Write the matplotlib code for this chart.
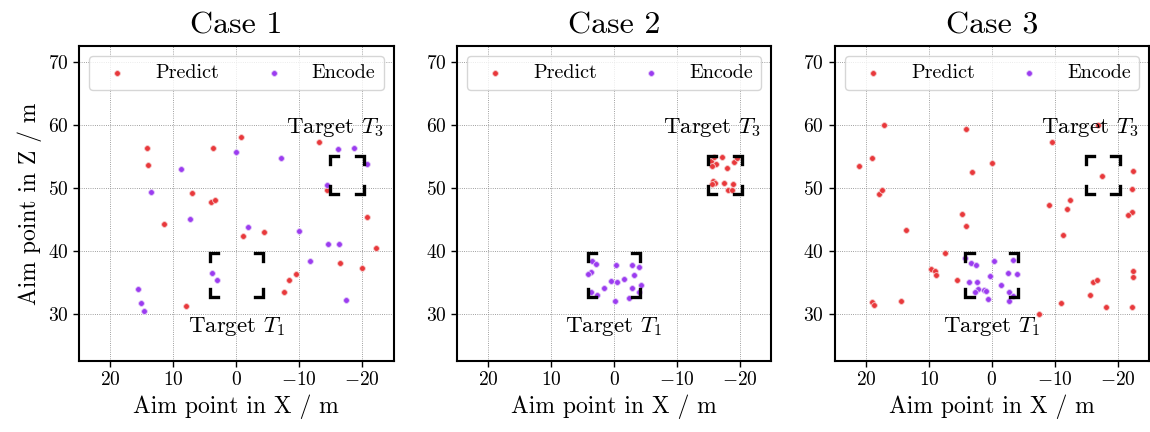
import matplotlib
matplotlib.use("Agg")
import matplotlib.pyplot as plt

plt.rcParams["font.family"] = "serif"
plt.rcParams["font.serif"] = ["cmr10"]
plt.rcParams["mathtext.fontset"] = "cm"
plt.rcParams["axes.formatter.use_mathtext"] = True
plt.rcParams["axes.unicode_minus"] = True

# ---- data ----
case_titles = ["Case 1", "Case 2", "Case 3"]

case1_pred_x = [14.2, 14.0, 3.7, -0.7, -13.1, 7.0, 4.1, 3.4, 11.5, -14.4,
                -20.7, -1.0, -4.4, -22.2, -16.5, -20.0, -9.4, -8.3, -7.5, 8.0]
case1_pred_y = [56.3, 53.6, 56.3, 58.0, 57.3, 49.2, 47.8, 48.1, 44.2, 49.6,
                45.3, 42.4, 43.0, 40.4, 38.1, 37.2, 36.3, 35.4, 33.5, 31.3]
case1_enc_x = [0.0, -7.1, -16.2, -18.7, -20.7, 8.8, 13.6, -14.4, 7.4, -1.9,
               -10.0, -14.6, -16.3, -11.7, 3.8, 3.0, 15.7, 15.1, 14.6, -17.4]
case1_enc_y = [55.7, 54.7, 56.2, 56.3, 53.8, 53.0, 49.4, 50.5, 45.0, 43.7,
               43.1, 41.0, 41.0, 38.3, 36.5, 35.3, 33.9, 31.7, 30.5, 32.2]

case2_pred_x = [-15.4, -15.9, -17.1, -16.2, -15.5, -18.0, -19.0, -19.6,
                -15.8, -16.0, -15.6, -17.5, -18.9, -18.1, -18.7]
case2_pred_y = [54.2, 54.9, 54.9, 53.8, 53.4, 53.2, 54.1, 54.7,
                51.1, 50.7, 50.6, 50.8, 50.6, 49.7, 49.7]
case2_enc_x = [3.5, 2.9, 3.6, 4.1, -0.3, -2.8, -3.9, -3.2, 0.5, -0.4,
               -1.6, -4.3, -2.8, 1.6, 3.7, 2.7, -0.2, -2.4, -4.0]
case2_enc_y = [38.3, 37.9, 36.7, 36.3, 37.8, 37.8, 37.4, 36.2, 35.2, 35.1,
               35.5, 34.6, 34.1, 34.1, 33.4, 33.0, 32.1, 32.5, 33.4]

case3_pred_x = [21.1, 19.0, 17.1, 18.0, 17.4, 13.7, 19.0, 18.8, 14.4, 7.5,
                9.7, 9.1, 8.9, 5.5, 4.1, 3.2, 4.8, 4.1, 0.0, -7.5,
                -9.6, -9.1, -12.0, -12.4, -11.3, -11.0, -15.6, -16.1, -16.7, -18.2,
                -17.5, -16.8, -22.4, -22.3, -22.3, -21.6, -22.4, -22.4, -22.2]
case3_pred_y = [53.5, 54.8, 59.9, 49.0, 49.7, 43.3, 31.8, 31.4, 32.1, 39.7,
                37.1, 36.8, 36.1, 35.3, 59.4, 52.5, 45.9, 44.0, 54.0, 30.0,
                57.2, 47.3, 46.6, 48.0, 42.5, 31.7, 32.9, 35.0, 35.3, 31.0,
                51.8, 59.9, 52.6, 49.8, 46.2, 45.6, 36.8, 35.8, 31.0]
case3_enc_x = [4.3, 3.3, 2.5, -0.4, -3.3, -2.5, -4.0, 0.3, 3.7, 2.3,
               -1.5, 2.2, 2.7, 1.2, 0.9, 0.6, -2.8, -3.3, -2.7]
case3_enc_y = [38.9, 38.0, 37.7, 38.4, 38.6, 36.5, 36.3, 36.0, 35.1, 35.1,
               34.6, 33.9, 33.5, 33.7, 33.6, 32.3, 33.5, 32.8, 32.0]

pred_x = [case1_pred_x, case2_pred_x, case3_pred_x]
pred_y = [case1_pred_y, case2_pred_y, case3_pred_y]
enc_x = [case1_enc_x, case2_enc_x, case3_enc_x]
enc_y = [case1_enc_y, case2_enc_y, case3_enc_y]

# target boxes: (x_left, x_right, y_bottom, y_top)
target_t1 = (4.2, -4.2, 32.6, 39.6)
target_t3 = (-14.9, -20.3, 49.0, 55.0)

RED = "#e8383b"
PURPLE = "#9b3cf0"


def draw_corners(ax, box, leg=1.3):
    x0, x1, y0, y1 = box
    sx = 1 if x1 > x0 else -1
    kw = dict(color="black", lw=2.4, solid_joinstyle="miter",
              solid_capstyle="projecting", zorder=4)
    ax.plot([x0 + sx * leg, x0, x0], [y1, y1, y1 - leg], **kw)
    ax.plot([x1 - sx * leg, x1, x1], [y1, y1, y1 - leg], **kw)
    ax.plot([x0 + sx * leg, x0, x0], [y0, y0, y0 + leg], **kw)
    ax.plot([x1 - sx * leg, x1, x1], [y0, y0, y0 + leg], **kw)


fig = plt.figure(figsize=(11.5, 4.32), dpi=100)
lefts = [79 / 1150, 456.7 / 1150, 834.5 / 1150]
w = 314.7 / 1150
b = 1 - 361 / 432
h = 315 / 432

for i in range(3):
    ax = fig.add_axes([lefts[i], b, w, h])
    ax.scatter(pred_x[i], pred_y[i], s=17, color=RED, edgecolor="#f6c8c8",
               linewidth=0.6, label="Predict", zorder=3)
    ax.scatter(enc_x[i], enc_y[i], s=17, color=PURPLE, edgecolor="#e2c8f8",
               linewidth=0.6, label="Encode", zorder=3)

    draw_corners(ax, target_t1)
    draw_corners(ax, target_t3)
    ax.text(-15.6, 59.6, r"Target $T_3$", fontsize=16.5, ha="center", va="center")
    ax.text(0, 27.9, r"Target $T_1$", fontsize=16.5, ha="center", va="center")

    ax.set_xlim(25, -25)
    ax.set_ylim(22.5, 72.5)
    ax.set_xticks([20, 10, 0, -10, -20])
    ax.set_yticks([30, 40, 50, 60, 70])
    ax.tick_params(labelsize=14, width=1.0, length=4)
    ax.grid(True, ls=":", lw=0.6, color="gray")
    ax.set_axisbelow(True)
    for sp in ax.spines.values():
        sp.set_linewidth(1.5)

    ax.set_title(case_titles[i], fontsize=23, pad=9)
    ax.set_xlabel("Aim point in X / m", fontsize=17)
    if i == 0:
        ax.set_ylabel("Aim point in Z / m", fontsize=17)

    ax.legend(loc="upper center", ncol=2, mode="expand", fontsize=14.5,
              bbox_to_anchor=(0, 0, 1, 1), borderaxespad=0.5,
              handletextpad=0.9, borderpad=0.4, fancybox=True, framealpha=0.8)

fig.savefig("out.png", dpi=100)
